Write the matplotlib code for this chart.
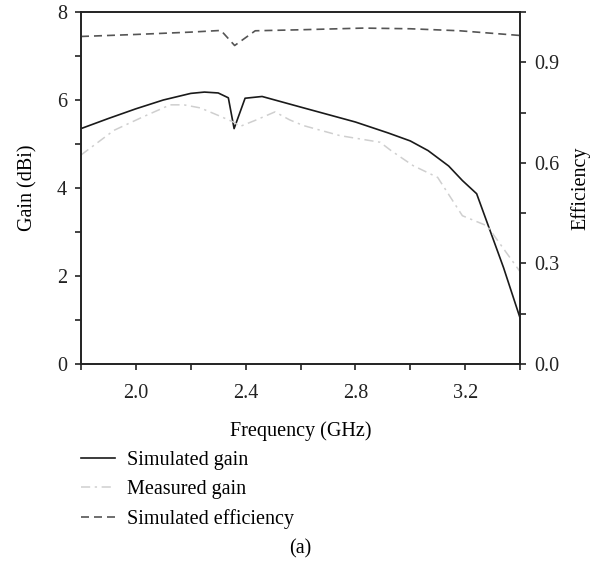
import matplotlib
matplotlib.use("Agg")
import matplotlib.pyplot as plt
from matplotlib.ticker import FixedLocator

# ---- data ----
sim_freq = [1.8, 1.9, 2.0, 2.1, 2.2, 2.25, 2.3, 2.337, 2.358, 2.398, 2.46, 2.6, 2.8,
            2.92, 3.0, 3.065, 3.14, 3.19, 3.242, 3.34, 3.4]
sim_gain = [5.35, 5.58, 5.80, 6.0, 6.15, 6.18, 6.16, 6.05, 5.35, 6.04, 6.08, 5.84, 5.50,
            5.25, 5.07, 4.85, 4.50, 4.17, 3.87, 2.19, 1.05]

meas_freq = [1.8, 1.92, 2.02, 2.125, 2.175, 2.235, 2.3, 2.355, 2.38, 2.44, 2.507, 2.56,
             2.61, 2.744, 2.89, 2.93, 3.01, 3.10, 3.19, 3.28, 3.4]
meas_gain = [4.75, 5.31, 5.6, 5.89, 5.89, 5.82, 5.65, 5.50, 5.40, 5.55, 5.73, 5.55,
             5.42, 5.19, 5.04, 4.85, 4.51, 4.24, 3.37, 3.14, 2.1]

eff_freq = [1.8, 2.0, 2.2, 2.31, 2.36, 2.435, 2.6, 2.83, 3.0, 3.18, 3.4]
eff_vals = [0.977, 0.983, 0.990, 0.995, 0.950, 0.994, 0.997, 1.002, 1.0, 0.994, 0.98]

x_ticks = [1.8, 2.0, 2.2, 2.4, 2.6, 2.8, 3.0, 3.2, 3.4]
x_labels = ["", "2.0", "", "2.4", "", "2.8", "", "3.2", ""]
gain_ticks = [0, 1, 2, 3, 4, 5, 6, 7, 8]
gain_labels = ["0", "", "2", "", "4", "", "6", "", "8"]
eff_ticks = [0.0, 0.15, 0.3, 0.45, 0.6, 0.75, 0.9, 1.05]
eff_labels = ["0.0", "", "0.3", "", "0.6", "", "0.9", ""]

legend_labels = ["Simulated gain", "Measured gain", "Simulated efficiency"]

FS = 14.5
plt.rcParams['font.family'] = ['Liberation Serif', 'DejaVu Serif']
plt.rcParams['font.size'] = FS

fig = plt.figure(figsize=(5.92, 5.63), dpi=100)
ax = fig.add_axes([81/592, 1-364/563, (520-81)/592, (364-12)/563])
ax2 = ax.twinx()

l1, = ax.plot(sim_freq, sim_gain, color="#1a1a1a", lw=1.2, ls="-")
l2, = ax.plot(meas_freq, meas_gain, color="#cfcfcf", lw=1.1, ls=(0, (6, 3, 1.5, 3)))
l3, = ax2.plot(eff_freq, eff_vals, color="#555555", lw=1.2, ls=(0, (4.8, 3)))

ax.set_xlim(1.8, 3.4)
ax.set_ylim(0, 8)
ax2.set_ylim(0, 1.05)

ax.xaxis.set_major_locator(FixedLocator(x_ticks))
ax.set_xticklabels(x_labels)
ax.yaxis.set_major_locator(FixedLocator(gain_ticks))
ax.set_yticklabels(gain_labels)
ax2.yaxis.set_major_locator(FixedLocator(eff_ticks))
ax2.set_yticklabels(eff_labels)

for a in (ax, ax2):
    a.tick_params(direction="out", length=4.5, width=1.2, colors="#222222",
                  labelsize=FS, pad=5.5)
    for s in a.spines.values():
        s.set_linewidth(1.2)
        s.set_color("#222222")
ax.tick_params(axis="x", pad=10)

ax.set_xlabel("Frequency (GHz)", fontsize=FS, labelpad=13)
ax.set_ylabel("Gain (dBi)", fontsize=FS, labelpad=14)
ax2.set_ylabel("Efficiency", fontsize=FS, labelpad=8)

fig.legend([l1, l2, l3], legend_labels, loc="upper left",
           bbox_to_anchor=(81/592, 1-451/563), frameon=False,
           handlelength=1.7, handletextpad=0.6, labelspacing=0.5,
           fontsize=FS, borderaxespad=0, borderpad=0)

fig.text(300/592, 1-549/563, "(a)", ha="center", va="center", fontsize=FS)

fig.savefig("out.png", dpi=100)
